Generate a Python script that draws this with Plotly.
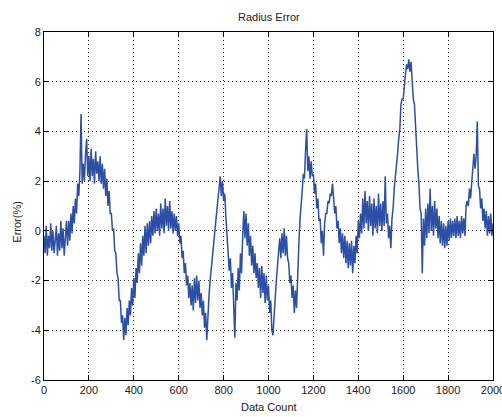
import plotly.graph_objects as go

x_start = 0
x_step = 5
error_pct = [
    # 0-45
    -0.2, -0.9, 0.2, -1.0, -0.2, -0.7, 0.3, -0.8, 0.0, -0.9,
    # 50-95
    -0.4, 0.2, -1.0, -0.1, -0.8, 0.4, -0.7, 0.1, -1.0, -0.1,
    # 100-145
    0.4, -0.6, 0.4, -0.4, 0.7, -0.1, 1.0, 0.3, 1.3, 0.7,
    # 150-195
    1.9, 1.4, 2.4, 4.7, 1.9, 2.7, 2.0, 3.1, 3.7, 2.2,
    # 200-245
    3.0, 2.0, 3.3, 2.2, 2.9, 1.9, 3.2, 2.3, 2.8, 2.0,
    # 250-295
    3.0, 1.9, 2.7, 1.7, 2.5, 1.4, 2.1, 1.0, 1.6, 0.7,
    # 300-345
    0.7, 0.0, 0.1, -0.8, -0.9, -1.7, -1.9, -2.8, -2.8, -3.7,
    # 350-395
    -3.4, -4.4, -3.5, -4.2, -3.1, -3.8, -2.8, -3.4, -2.3, -3.0,
    # 400-445
    -1.9, -2.7, -1.5, -2.1, -0.9, -1.7, -0.5, -1.4, -0.2, -1.0,
    # 450-495
    0.2, -0.9, 0.3, -0.6, 0.4, -0.5, 0.6, -0.2, 0.8, -0.1,
    # 500-545
    0.9, 0.0, 0.7, -0.2, 1.1, 0.1, 0.9, -0.1, 1.3, 0.2,
    # 550-595
    1.0, 0.0, 1.2, 0.1, 0.8, -0.1, 0.7, 0.0, 0.6, -0.2,
    # 600-645
    0.3, -0.5, -0.2, -1.1, -0.8, -1.7, -1.3, -2.2, -1.8, -2.7,
    # 650-695
    -2.1, -3.0, -2.2, -3.2, -1.9, -2.9, -1.8, -2.8, -2.0, -3.1,
    # 700-745
    -2.5, -3.4, -2.8, -3.9, -3.3, -4.4, -3.1, -2.6, -2.0, -1.5,
    # 750-795
    -0.9, -0.6, 0.0, 0.3, 1.0, 1.3, 1.7, 2.2, 1.4, 2.0,
    # 800-845
    1.2, 1.5, 0.6, -0.1, -0.7, -1.6, -1.1, -2.3, -1.7, -2.7,
    # 850-895
    -4.3, -2.1, -2.8, -1.5, -2.4, -0.9, -1.7, -0.2, 0.8, -0.3,
    # 900-945
    0.7, -0.6, 0.3, -1.0, -0.2, -1.4, -0.6, -1.7, -0.9, -1.9,
    # 950-995
    -1.3, -2.3, -1.5, -2.7, -1.4, -2.5, -1.7, -2.9, -1.8, -2.8,
    # 1000-1045
    -2.2, -3.3, -2.8, -4.0, -4.2, -3.4, -2.5, -2.0, -1.4, -0.9,
    # 1050-1095
    -0.3, -1.1, -0.1, -0.9, 0.1, -1.0, -0.2, -1.1, -1.3, -2.1,
    # 1100-1145
    -1.8, -2.7, -2.2, -3.3, -2.4, -3.1, -1.3, -0.6, 0.4, 0.9,
    # 1150-1195
    1.6, 2.3, 2.1, 3.2, 4.1, 2.4, 3.0, 2.1, 2.8, 2.2,
    # 1200-1245
    2.3, 1.5, 1.9, 0.9, 1.3, 0.4, 0.5, -0.5, 0.0, -1.0,
    # 1250-1295
    0.3, 0.7, 0.7, 1.2, 1.1, 1.5, 1.4, 1.9, 1.3, 0.7,
    # 1300-1345
    1.0, 0.1, 0.4, -0.5, 0.1, -0.9, -0.1, -1.1, -0.2, -1.3,
    # 1350-1395
    -0.4, -1.5, -0.5, -1.4, -0.4, -1.7, -0.6, -1.3, -0.2, -0.9,
    # 1400-1445
    0.4, -0.3, 0.7, -0.1, 1.3, 0.1, 1.6, 0.3, 1.2, 0.0,
    # 1450-1495
    1.4, 0.2, 1.1, -0.2, 1.3, 0.1, 1.0, -0.1, 1.5, 0.2,
    # 1500-1545
    1.1, 0.0, 1.2, 0.2, 2.2, 0.3, 0.7, -0.3, 0.2, -0.7,
    # 1550-1595
    0.5, 0.9, 1.7, 2.1, 2.7, 3.1, 3.7, 4.1, 5.1, 5.3,
    # 1600-1645
    5.3, 5.9, 6.3, 6.7, 6.5, 6.9, 6.4, 6.8, 6.1, 5.3,
    # 1650-1695
    5.1, 4.0, 3.5, 2.5, 1.9, 0.9, 0.7, -1.7, 0.5, -0.6,
    # 1700-1745
    0.9, -0.3, 1.1, -0.1, 1.7, 0.0, 1.0, -0.2, 1.2, 0.1,
    # 1750-1795
    0.9, -0.3, 0.6, -0.5, 0.4, -0.6, 0.3, -0.7, 0.2, -0.6,
    # 1800-1845
    0.4, -0.4, 0.5, -0.3, 0.4, -0.2, 0.5, -0.3, 0.6, -0.2,
    # 1850-1895
    0.4, -0.3, 0.6, -0.1, 0.5, -0.2, 1.0, 1.2, 1.0, 1.7,
    # 1900-1945
    1.3, 1.8, 2.3, 3.1, 2.5, 3.0, 4.4, 1.8, 1.7, 0.9,
    # 1950-1995
    1.3, 0.4, 0.9, 0.1, 0.8, -0.2, 0.6, -0.1, 0.7, -0.2,
    # 2000
    0.3,
]
data_count = [x_start + i * x_step for i in range(len(error_pct))]

x_ticks = [0, 200, 400, 600, 800, 1000, 1200, 1400, 1600, 1800, 2000]
y_ticks = [-6, -4, -2, 0, 2, 4, 6, 8]

FONT = "Liberation Sans, Arial, sans-serif"

fig = go.Figure()
fig.add_trace(go.Scatter(
    x=data_count, y=error_pct, mode="lines",
    line=dict(color="#2c4fa5", width=1.5),
    showlegend=False, hoverinfo="skip",
))

axis_common = dict(
    showline=True, linecolor="black", linewidth=1, mirror="allticks",
    ticks="inside", ticklen=5, tickcolor="black",
    showgrid=True, gridcolor="#333333", griddash="1px,3px", gridwidth=1,
    zeroline=False, ticklabeloverflow="allow", automargin=False,
    tickfont=dict(family=FONT, size=11, color="#222222"),
)

fig.update_layout(
    width=502, height=417,
    paper_bgcolor="white", plot_bgcolor="white",
    margin=dict(l=44, r=9, t=32, b=37, autoexpand=False),
    xaxis=dict(range=[0, 2000], tickvals=x_ticks,
               ticktext=[str(v) for v in x_ticks], **axis_common),
    yaxis=dict(range=[-6, 8], tickvals=y_ticks,
               ticktext=[str(v) for v in y_ticks], **axis_common),
    annotations=[
        dict(text="Radius Error", xref="paper", yref="paper", x=0.5, y=1,
             yshift=15, showarrow=False, xanchor="center", yanchor="middle",
             font=dict(family=FONT, size=11, color="#222222")),
        dict(text="Data Count", xref="paper", yref="paper", x=0.5, y=0,
             yshift=-27, showarrow=False, xanchor="center", yanchor="middle",
             font=dict(family=FONT, size=11, color="#222222")),
        dict(text="Error(%)", xref="paper", yref="paper", x=0, y=0.455,
             xshift=-27, showarrow=False, textangle=-90,
             xanchor="center", yanchor="middle",
             font=dict(family=FONT, size=11, color="#222222")),
    ],
)

fig.write_html(
    "out.html",
    config={"displayModeBar": False},
    post_script="document.body.style.margin='0';document.body.style.overflow='hidden';",
)
